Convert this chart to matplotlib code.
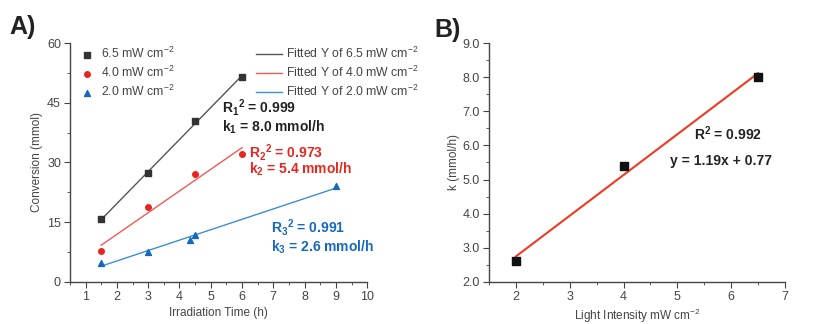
import numpy as np
import matplotlib
matplotlib.use("Agg")
import matplotlib.pyplot as plt
from matplotlib.ticker import MultipleLocator

plt.rcParams["font.family"] = ["Liberation Sans", "DejaVu Sans"]
plt.rcParams["mathtext.default"] = "regular"

# Panel A data: conversion vs irradiation time
t_65 = [1.5, 3, 4.5, 6]
c_65 = [15.7, 27.3, 40.5, 51.5]
t_40 = [1.5, 3, 4.5, 6]
c_40 = [7.8, 18.7, 27.2, 32.2]
t_20 = [1.5, 3, 4.35, 4.5, 9]
c_20 = [4.8, 7.6, 10.4, 11.8, 24.0]

# Panel B data: rate constant vs light intensity
intensity = [2, 4, 6.5]
k_vals = [2.6, 5.4, 8.0]

gray_pt = "#333333"
red_pt = "#e8251e"
blue_pt = "#1668bf"
gray_ln = "#555555"
red_ln = "#f25a55"
blue_ln = "#3c8fd6"
axcol = "#444444"

fig = plt.figure(figsize=(8.36, 3.24), dpi=100)
axA = fig.add_axes([0.0837, 0.130, 0.3555, 0.737])
axB = fig.add_axes([0.585, 0.130, 0.354, 0.737])


def style_axis(ax):
    for s in ["top", "right"]:
        ax.spines[s].set_visible(False)
    for s in ["left", "bottom"]:
        ax.spines[s].set_color(axcol)
        ax.spines[s].set_linewidth(1.0)
    ax.tick_params(which="both", direction="out", colors=axcol, labelsize=9)
    ax.tick_params(which="major", length=4, pad=2.5)
    ax.tick_params(which="minor", length=2)


def fit_line(ax, x, y, color, lw):
    p = np.polyfit(x, y, 1)
    xs = np.array([min(x), max(x)])
    return ax.plot(xs, np.polyval(p, xs), color=color, lw=lw)[0]


# ---- panel A
style_axis(axA)
s1 = axA.scatter(t_65, c_65, marker="s", s=14, color=gray_pt, zorder=3)
s2 = axA.scatter(t_40, c_40, marker="o", s=16, color=red_pt, zorder=3)
s3 = axA.scatter(t_20, c_20, marker="^", s=18, color=blue_pt, zorder=3)
l1 = fit_line(axA, t_65, c_65, gray_ln, 1.0)
l2 = fit_line(axA, t_40, c_40, red_ln, 1.0)
l3 = fit_line(axA, t_20, c_20, blue_ln, 1.0)

axA.set_xlim(0.5, 10)
axA.set_ylim(0, 60)
axA.xaxis.set_major_locator(MultipleLocator(1))
axA.xaxis.set_minor_locator(MultipleLocator(0.5))
axA.yaxis.set_major_locator(MultipleLocator(15))
axA.yaxis.set_minor_locator(MultipleLocator(7.5))
axA.set_xlabel("Irradiation Time (h)", fontsize=8.5, color=axcol, labelpad=3)
axA.set_ylabel("Conversion (mmol)", fontsize=8.5, color=axcol, labelpad=3)

leg1 = axA.legend([s1, s2, s3],
                  ["6.5 mW cm$^{-2}$", "4.0 mW cm$^{-2}$", "2.0 mW cm$^{-2}$"],
                  loc="upper left", bbox_to_anchor=(-0.003, 1.035), frameon=False,
                  fontsize=8.8, handlelength=1.2, handletextpad=0.5,
                  labelspacing=0.32, labelcolor=axcol)
axA.add_artist(leg1)
axA.legend([l1, l2, l3],
           ["Fitted Y of 6.5 mW cm$^{-2}$", "Fitted Y of 4.0 mW cm$^{-2}$",
            "Fitted Y of 2.0 mW cm$^{-2}$"],
           loc="upper right", bbox_to_anchor=(1.21, 1.035), frameon=False,
           fontsize=8.8, handlelength=2.1, handletextpad=0.35,
           labelspacing=0.32, labelcolor=axcol)

ann = dict(fontsize=10, fontweight="bold", va="center")
axA.text(5.36, 43.7, "R$_1$$^2$ = 0.999", color="#222222", **ann)
axA.text(5.36, 38.9, "k$_1$ = 8.0 mmol/h", color="#222222", **ann)
axA.text(6.22, 32.6, "R$_2$$^2$ = 0.973", color=red_pt, **ann)
axA.text(6.22, 28.3, "k$_2$ = 5.4 mmol/h", color=red_pt, **ann)
axA.text(6.93, 13.6, "R$_3$$^2$ = 0.991", color=blue_pt, **ann)
axA.text(6.93, 8.8, "k$_3$ = 2.6 mmol/h", color=blue_pt, **ann)

# ---- panel B
style_axis(axB)
axB.scatter(intensity, k_vals, marker="s", s=26, color="#111111", zorder=3)
fit_line(axB, intensity, k_vals, "#f03a22", 1.5)
axB.set_xlim(1.5, 7)
axB.set_ylim(2.0, 9.0)
axB.xaxis.set_major_locator(MultipleLocator(1))
axB.xaxis.set_minor_locator(MultipleLocator(0.5))
axB.yaxis.set_major_locator(MultipleLocator(1))
axB.yaxis.set_minor_locator(MultipleLocator(0.5))
axB.yaxis.set_major_formatter(matplotlib.ticker.FormatStrFormatter("%.1f"))
axB.set_xlabel("Light Intensity mW cm$^{-2}$", fontsize=8.5, color=axcol, labelpad=3)
axB.set_ylabel("k (mmol/h)", fontsize=8.5, color=axcol, labelpad=2)
axB.text(5.31, 6.33, "R$^2$ = 0.992", color="#222222", **ann)
axB.text(4.86, 5.54, "y = 1.19x + 0.77", color="#222222", **ann)

fig.text(0.011, 0.895, "A)", fontsize=18, fontweight="bold", color="#222222")
fig.text(0.52, 0.885, "B)", fontsize=18, fontweight="bold", color="#222222")

fig.savefig("out.png", dpi=100, facecolor="white")
